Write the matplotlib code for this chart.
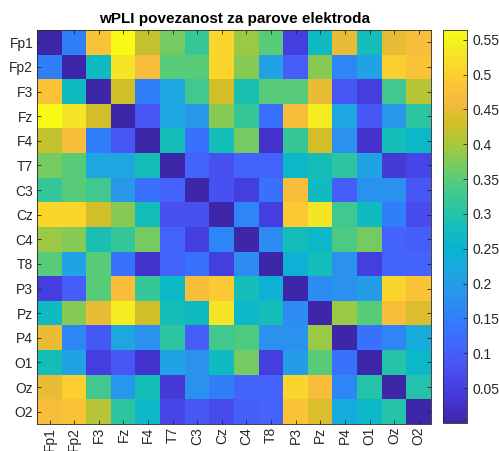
import numpy as np
import matplotlib
matplotlib.use("Agg")
import matplotlib.pyplot as plt
from matplotlib.colors import LinearSegmentedColormap
from matplotlib.ticker import FuncFormatter

electrodes = ["Fp1", "Fp2", "F3", "Fz", "F4", "T7", "C3", "Cz",
              "C4", "T8", "P3", "Pz", "P4", "O1", "Oz", "O2"]

wpli = [
    [0.00, 0.15, 0.48, 0.56, 0.42, 0.37, 0.32, 0.51, 0.39, 0.35, 0.05, 0.27, 0.45, 0.28, 0.45, 0.47],
    [0.15, 0.00, 0.27, 0.53, 0.47, 0.35, 0.35, 0.51, 0.38, 0.21, 0.10, 0.38, 0.16, 0.21, 0.50, 0.48],
    [0.48, 0.27, 0.00, 0.43, 0.15, 0.22, 0.33, 0.43, 0.29, 0.35, 0.35, 0.45, 0.09, 0.05, 0.33, 0.41],
    [0.56, 0.53, 0.43, 0.00, 0.09, 0.22, 0.19, 0.38, 0.32, 0.13, 0.47, 0.54, 0.22, 0.09, 0.19, 0.31],
    [0.42, 0.47, 0.15, 0.09, 0.00, 0.28, 0.13, 0.28, 0.37, 0.03, 0.32, 0.43, 0.18, 0.03, 0.28, 0.26],
    [0.37, 0.35, 0.22, 0.22, 0.28, 0.00, 0.11, 0.08, 0.11, 0.11, 0.26, 0.28, 0.31, 0.21, 0.04, 0.06],
    [0.32, 0.35, 0.33, 0.19, 0.13, 0.11, 0.00, 0.08, 0.05, 0.13, 0.47, 0.27, 0.10, 0.18, 0.18, 0.09],
    [0.51, 0.51, 0.43, 0.38, 0.28, 0.08, 0.08, 0.00, 0.16, 0.05, 0.49, 0.53, 0.33, 0.27, 0.15, 0.07],
    [0.39, 0.38, 0.29, 0.32, 0.37, 0.11, 0.05, 0.16, 0.00, 0.17, 0.28, 0.26, 0.34, 0.37, 0.11, 0.10],
    [0.35, 0.21, 0.35, 0.13, 0.03, 0.11, 0.13, 0.05, 0.17, 0.00, 0.24, 0.28, 0.18, 0.05, 0.11, 0.11],
    [0.05, 0.10, 0.35, 0.47, 0.32, 0.26, 0.47, 0.49, 0.28, 0.24, 0.00, 0.17, 0.18, 0.20, 0.51, 0.48],
    [0.27, 0.38, 0.45, 0.54, 0.43, 0.28, 0.27, 0.53, 0.26, 0.28, 0.17, 0.00, 0.39, 0.35, 0.47, 0.44],
    [0.45, 0.16, 0.09, 0.22, 0.18, 0.31, 0.10, 0.33, 0.34, 0.18, 0.18, 0.39, 0.00, 0.13, 0.16, 0.23],
    [0.28, 0.21, 0.05, 0.09, 0.03, 0.21, 0.18, 0.27, 0.37, 0.05, 0.20, 0.35, 0.13, 0.00, 0.30, 0.26],
    [0.45, 0.50, 0.33, 0.19, 0.28, 0.04, 0.18, 0.15, 0.11, 0.11, 0.51, 0.47, 0.16, 0.30, 0.00, 0.30],
    [0.47, 0.48, 0.41, 0.31, 0.26, 0.06, 0.09, 0.07, 0.10, 0.11, 0.48, 0.44, 0.23, 0.26, 0.30, 0.00],
]

cbar_ticks = [0.05, 0.1, 0.15, 0.2, 0.25, 0.3, 0.35, 0.4, 0.45, 0.5, 0.55]

# parula-like colormap (subset of MATLAB's 64 colours)
parula_idx = [0, 4, 8, 12, 16, 20, 24, 28, 32, 36, 40, 44, 48, 52, 56, 60, 63]
parula_rgb = [
    (0.2422, 0.1504, 0.6603), (0.2706, 0.2147, 0.8364), (0.2813, 0.3006, 0.9414),
    (0.2699, 0.3892, 0.9906), (0.1963, 0.4847, 0.9892), (0.1687, 0.5703, 0.9359),
    (0.1248, 0.6459, 0.8883), (0.0297, 0.7082, 0.8163), (0.0964, 0.7489, 0.7124),
    (0.2161, 0.7840, 0.5923), (0.3909, 0.8029, 0.4354), (0.6174, 0.7876, 0.2612),
    (0.8203, 0.7498, 0.1535), (0.9728, 0.7298, 0.2394), (0.9892, 0.8136, 0.1885),
    (0.9597, 0.9135, 0.1423), (0.9769, 0.9839, 0.0805),
]
parula = LinearSegmentedColormap.from_list(
    "parula", [(i / 63.0, c) for i, c in zip(parula_idx, parula_rgb)], N=256)

plt.rcParams['font.family'] = ['Liberation Sans', 'DejaVu Sans']
textColor = (0.15, 0.15, 0.15)

fig = plt.figure(figsize=(4.99, 4.51), dpi=100)
ax = fig.add_axes([0.0748, 0.0599, 0.789, 0.8736])
cax = fig.add_axes([0.888, 0.0621, 0.0475, 0.8714])

img = ax.imshow(np.array(wpli), cmap=parula, vmin=0.0, vmax=0.564,
                aspect='auto', interpolation='nearest')

n = len(electrodes)
ax.set_xticks(range(n))
ax.set_yticks(range(n))
ax.set_xticklabels(electrodes, rotation=90, fontsize=10, color=textColor)
ax.set_yticklabels(electrodes, fontsize=10, color=textColor)
ax.tick_params(direction='in', length=3, width=0.6, color=textColor,
               top=True, right=True, pad=3)
ax.tick_params(axis='x', pad=2)
for s in ax.spines.values():
    s.set_color(textColor)
    s.set_linewidth(0.6)

ax.set_title("wPLI povezanost za parove elektroda", fontsize=11,
             fontweight='bold', color='black', pad=5)

cb = fig.colorbar(img, cax=cax)
cb.set_ticks(cbar_ticks)
cb.ax.yaxis.set_major_formatter(FuncFormatter(lambda v, p: "%g" % round(v, 2)))
cb.ax.tick_params(direction='in', length=3, width=0.6, color=textColor,
                  labelsize=10, labelcolor=textColor, pad=4)
cb.outline.set_edgecolor(textColor)
cb.outline.set_linewidth(0.6)

plt.savefig("out.png", dpi=100)
